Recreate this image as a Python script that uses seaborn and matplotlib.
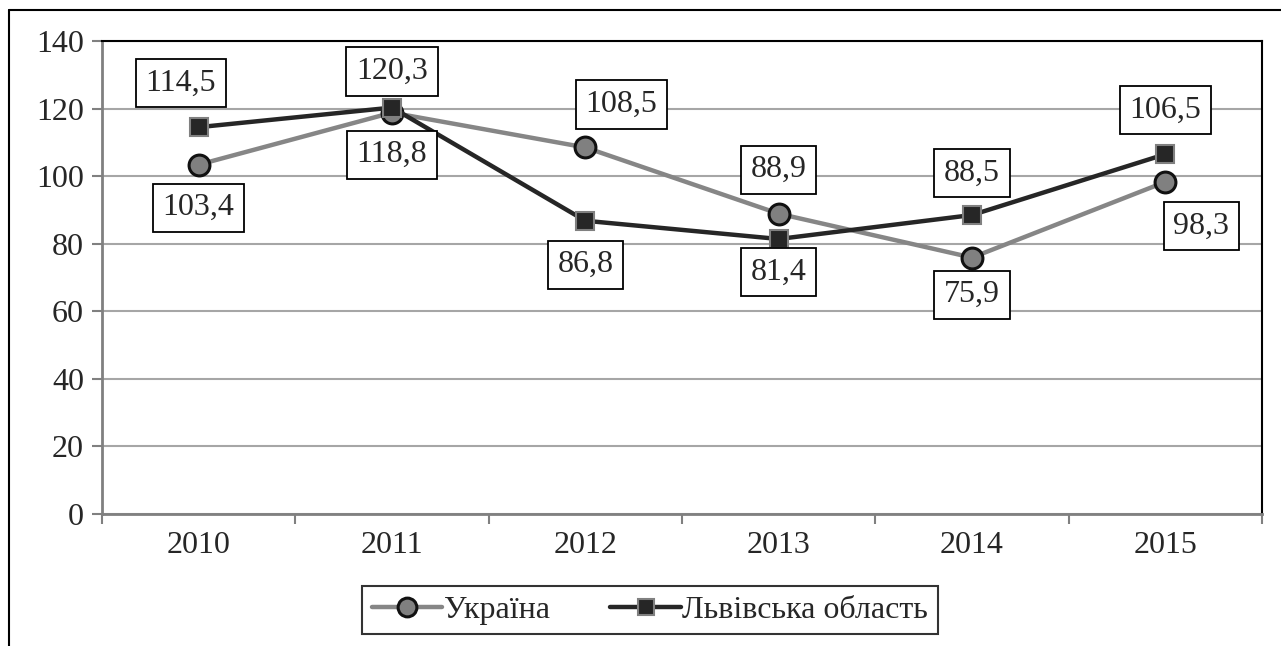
import pandas as pd
import numpy as np
import seaborn as sns
import matplotlib.pyplot as plt
from matplotlib.lines import Line2D
from matplotlib.ticker import FixedLocator

years = ["2010", "2011", "2012", "2013", "2014", "2015"]
ukraine = [103.4, 118.8, 108.5, 88.9, 75.9, 98.3]
lviv = [114.5, 120.3, 86.8, 81.4, 88.5, 106.5]
series_names = ["Україна", "Львівська область"]

# label offsets in pixels (dx, dy) for each point
ukr_offsets = [(0, -43), (0, -42), (36, 43), (0, 44), (0, -37), (36, -44)]
lviv_offsets = [(-18, 44), (0, 36), (0, -44), (0, -33), (0, 42), (0, 44)]

FS = 23


def label_points(ax, xs, values, offsets):
    for x, v, (dx, dy) in zip(xs, values, offsets):
        ax.annotate(f"{v:.1f}".replace(".", ","), xy=(x, v), xytext=(dx, dy),
                    textcoords="offset pixels", ha="center", va="center",
                    fontsize=FS, zorder=6,
                    bbox=dict(boxstyle="square,pad=0.3", fc="white", ec="black", lw=1.3))


def main():
    sns.set_style("white")
    plt.rcParams["font.family"] = ["Liberation Serif", "DejaVu Serif"]

    fig = plt.figure(figsize=(12.81, 6.46), dpi=100)
    ax = fig.add_axes([0.0796, 0.2043, 0.9056, 0.7322])

    xs = np.arange(len(years))
    df = pd.DataFrame({"x": xs, "ukr": ukraine, "lviv": lviv})

    sns.lineplot(data=df, x="x", y="ukr", ax=ax, color="#868686", lw=3.2,
                 marker="o", markersize=15, markerfacecolor="#808080",
                 markeredgecolor="#111111", markeredgewidth=2.2, zorder=4,
                 label=series_names[0])
    sns.lineplot(data=df, x="x", y="lviv", ax=ax, color="#262626", lw=3.2,
                 marker="s", markersize=12.5, markerfacecolor="#262626",
                 markeredgecolor="#808080", markeredgewidth=1.5, zorder=5,
                 label=series_names[1])

    label_points(ax, xs, ukraine, ukr_offsets)
    label_points(ax, xs, lviv, lviv_offsets)

    ax.set_xlim(-0.5, len(years) - 0.5)
    ax.set_ylim(0, 140)
    ax.set_yticks(np.arange(0, 141, 20))
    ax.set_xticks(xs)
    ax.set_xticklabels(years)
    ax.xaxis.set_minor_locator(FixedLocator(np.arange(-0.5, len(years), 1)))
    ax.set_xlabel("")
    ax.set_ylabel("")

    ax.grid(axis="y", color="#a6a6a6", lw=1.5)
    ax.set_axisbelow(True)
    ax.tick_params(axis="y", which="major", direction="out", length=7, width=1.5,
                   color="#808080", labelsize=FS, pad=6, left=True)
    ax.tick_params(axis="x", which="major", length=0, labelsize=FS, pad=12)
    ax.tick_params(axis="x", which="minor", direction="out", length=7, width=1.5,
                   color="#808080", bottom=True)

    for side in ["left", "bottom"]:
        ax.spines[side].set_color("#808080")
        ax.spines[side].set_linewidth(2)
    for side in ["top", "right"]:
        ax.spines[side].set_color("black")
        ax.spines[side].set_linewidth(1.5)

    leg = ax.legend(loc="center", bbox_to_anchor=(650 / 1281, 1 - 610 / 646),
                    bbox_transform=fig.transFigure, ncol=2, fontsize=FS,
                    frameon=True, fancybox=False, edgecolor="black",
                    handlelength=2.2, handletextpad=0.05, columnspacing=1.9,
                    borderpad=0.3, borderaxespad=0, markerscale=0.9)
    leg.get_frame().set_linewidth(1.5)

    # outer chart border (cut at right and bottom in the reference)
    fig.add_artist(Line2D([9 / 1281, 1], [1 - 10 / 646, 1 - 10 / 646],
                          transform=fig.transFigure, color="black", lw=1.5))
    fig.add_artist(Line2D([9 / 1281, 9 / 1281], [0, 1 - 10 / 646],
                          transform=fig.transFigure, color="black", lw=1.5))

    fig.savefig("out.png", dpi=100)


if __name__ == "__main__":
    main()
